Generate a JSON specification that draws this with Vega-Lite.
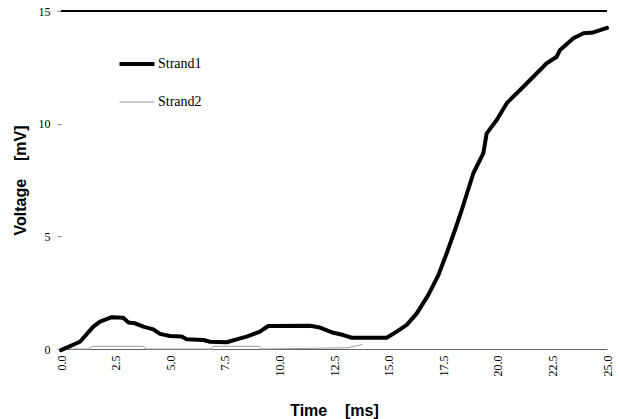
{
  "$schema": "https://vega.github.io/schema/vega-lite/v6.json",
  "width": 546,
  "height": 338,
  "autosize": {"type": "none"},
  "padding": {"left": 61, "top": 11, "right": 12, "bottom": 70},
  "background": "white",
  "config": {"view": {"stroke": null}},
  "data": {"values": [
    {"t": 0.0, "v": -0.05, "s": "Strand1"},
    {"t": 0.87, "v": 0.32, "s": "Strand1"},
    {"t": 1.48, "v": 0.99, "s": "Strand1"},
    {"t": 1.79, "v": 1.21, "s": "Strand1"},
    {"t": 2.32, "v": 1.41, "s": "Strand1"},
    {"t": 2.85, "v": 1.39, "s": "Strand1"},
    {"t": 3.08, "v": 1.18, "s": "Strand1"},
    {"t": 3.39, "v": 1.14, "s": "Strand1"},
    {"t": 3.77, "v": 0.99, "s": "Strand1"},
    {"t": 4.23, "v": 0.87, "s": "Strand1"},
    {"t": 4.53, "v": 0.67, "s": "Strand1"},
    {"t": 4.99, "v": 0.58, "s": "Strand1"},
    {"t": 5.53, "v": 0.55, "s": "Strand1"},
    {"t": 5.75, "v": 0.43, "s": "Strand1"},
    {"t": 6.52, "v": 0.4, "s": "Strand1"},
    {"t": 6.82, "v": 0.32, "s": "Strand1"},
    {"t": 7.59, "v": 0.3, "s": "Strand1"},
    {"t": 8.2, "v": 0.47, "s": "Strand1"},
    {"t": 8.5, "v": 0.55, "s": "Strand1"},
    {"t": 9.11, "v": 0.77, "s": "Strand1"},
    {"t": 9.49, "v": 1.02, "s": "Strand1"},
    {"t": 11.4, "v": 1.03, "s": "Strand1"},
    {"t": 11.86, "v": 0.95, "s": "Strand1"},
    {"t": 12.47, "v": 0.72, "s": "Strand1"},
    {"t": 12.93, "v": 0.62, "s": "Strand1"},
    {"t": 13.31, "v": 0.5, "s": "Strand1"},
    {"t": 14.91, "v": 0.5, "s": "Strand1"},
    {"t": 15.37, "v": 0.77, "s": "Strand1"},
    {"t": 15.83, "v": 1.07, "s": "Strand1"},
    {"t": 16.29, "v": 1.58, "s": "Strand1"},
    {"t": 16.82, "v": 2.4, "s": "Strand1"},
    {"t": 17.28, "v": 3.28, "s": "Strand1"},
    {"t": 17.66, "v": 4.25, "s": "Strand1"},
    {"t": 18.04, "v": 5.28, "s": "Strand1"},
    {"t": 18.35, "v": 6.17, "s": "Strand1"},
    {"t": 18.88, "v": 7.8, "s": "Strand1"},
    {"t": 19.34, "v": 8.69, "s": "Strand1"},
    {"t": 19.49, "v": 9.57, "s": "Strand1"},
    {"t": 19.95, "v": 10.16, "s": "Strand1"},
    {"t": 20.41, "v": 10.91, "s": "Strand1"},
    {"t": 21.17, "v": 11.64, "s": "Strand1"},
    {"t": 22.24, "v": 12.68, "s": "Strand1"},
    {"t": 22.7, "v": 12.97, "s": "Strand1"},
    {"t": 22.85, "v": 13.27, "s": "Strand1"},
    {"t": 23.46, "v": 13.79, "s": "Strand1"},
    {"t": 23.92, "v": 14.01, "s": "Strand1"},
    {"t": 24.37, "v": 14.05, "s": "Strand1"},
    {"t": 25.0, "v": 14.25, "s": "Strand1"},
    {"t": 0.0, "v": 0.0, "s": "Strand2"},
    {"t": 1.25, "v": 0.0, "s": "Strand2"},
    {"t": 1.45, "v": 0.12, "s": "Strand2"},
    {"t": 3.75, "v": 0.12, "s": "Strand2"},
    {"t": 3.9, "v": 0.0, "s": "Strand2"},
    {"t": 6.85, "v": 0.0, "s": "Strand2"},
    {"t": 7.0, "v": 0.12, "s": "Strand2"},
    {"t": 9.05, "v": 0.12, "s": "Strand2"},
    {"t": 9.2, "v": 0.0, "s": "Strand2"},
    {"t": 13.1, "v": 0.05, "s": "Strand2"},
    {"t": 13.8, "v": 0.2, "s": "Strand2"}
  ]},
  "encoding": {
    "x": {
      "field": "t", "type": "quantitative",
      "scale": {"domain": [0, 25], "nice": false, "zero": false},
      "axis": {
        "values": [0, 2.5, 5, 7.5, 10, 12.5, 15, 17.5, 20, 22.5, 25],
        "format": ".1f", "labelAngle": -90, "ticks": false,
        "domainColor": "#666", "grid": false,
        "labelFont": "Liberation Serif", "labelFontSize": 12, "labelColor": "black",
        "labelPadding": 6,
        "title": "Time\u00a0\u00a0\u00a0\u00a0[ms]", "titleFont": "Liberation Sans", "titleFontSize": 16,
        "titleFontWeight": "bold", "titleColor": "black", "titlePadding": 26
      }
    },
    "y": {
      "field": "v", "type": "quantitative",
      "scale": {"domain": [0, 15], "nice": false},
      "axis": {
        "values": [0, 5, 10, 15], "domain": false, "grid": false,
        "tickColor": "#888", "tickSize": 4,
        "labelFont": "Liberation Serif", "labelFontSize": 12, "labelColor": "black",
        "labelPadding": 7,
        "title": "Voltage\u00a0\u00a0\u00a0\u00a0[mV]", "titleFont": "Liberation Sans", "titleFontSize": 16,
        "titleFontWeight": "bold", "titleColor": "black", "titlePadding": 10
      }
    },
    "color": {
      "field": "s", "type": "nominal",
      "scale": {"domain": ["Strand1", "Strand2"], "range": ["#000000", "#999999"]},
      "legend": {
        "orient": "none", "legendX": 69, "legendY": 46, "title": null,
        "symbolType": "stroke", "symbolSize": 1225, "padding": 0,
        "labelFont": "Liberation Serif", "labelFontSize": 14, "labelColor": "black",
        "labelOffset": 14, "rowPadding": 23,
        "encode": {"symbols": {"update": {"strokeWidth": {"signal": "datum.value === 'Strand1' ? 4 : 1"}}}}
      }
    }
  },
  "layer": [
    {
      "mark": {"type": "rule", "color": "black", "strokeWidth": 1},
      "encoding": {"y": {"datum": 15}, "x": null, "color": null}
    },
    {
      "transform": [{"filter": "datum.s === 'Strand2'"}],
      "mark": {"type": "line", "strokeWidth": 1}
    },
    {
      "transform": [{"filter": "datum.s === 'Strand1'"}],
      "mark": {"type": "line", "strokeWidth": 4, "strokeJoin": "round", "strokeCap": "round"}
    }
  ]
}
